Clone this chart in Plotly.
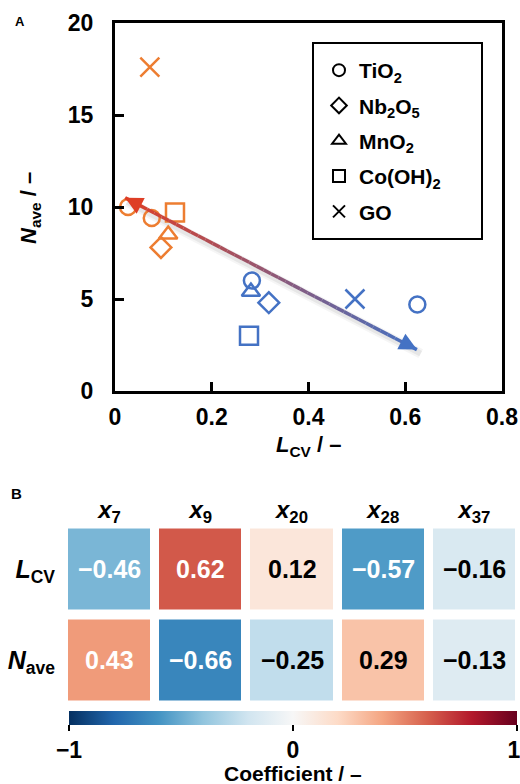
import plotly.graph_objects as go
import plotly.express as px

# ---------------- Panel A data ----------------
materials = ["TiO<sub>2</sub>", "Nb<sub>2</sub>O<sub>5</sub>", "MnO<sub>2</sub>", "Co(OH)<sub>2</sub>", "GO"]
symbols = ["circle-open", "diamond-open", "triangle-up-open", "square-open", "x-thin-open"]
marker_sizes = [16, 16, 16, 18, 19]

# L_CV and N_ave per material; group: "high" (orange) or "low" (blue)
tio2_lcv = [0.027, 0.076, 0.283, 0.625]
tio2_nave = [10.0, 9.4, 6.0, 4.7]
tio2_group = ["high", "high", "low", "low"]

nb2o5_lcv = [0.095, 0.318]
nb2o5_nave = [7.8, 4.8]
nb2o5_group = ["high", "low"]

mno2_lcv = [0.110, 0.281]
mno2_nave = [8.5, 5.4]
mno2_group = ["high", "low"]

coh2_lcv = [0.124, 0.277]
coh2_nave = [9.7, 3.0]
coh2_group = ["high", "low"]

go_lcv = [0.072, 0.496]
go_nave = [17.6, 5.0]
go_group = ["high", "low"]

# trend arrow (start = red head, end = blue head)
arrow_lcv = [0.021, 0.624]
arrow_nave = [10.5, 2.25]

group_colors = {"high": "#ED7D31", "low": "#4472C4"}

# ---------------- Panel B data ----------------
descriptors = ["<b><i>x</i><sub>7</sub></b>", "<b><i>x</i><sub>9</sub></b>", "<b><i>x</i><sub>20</sub></b>",
               "<b><i>x</i><sub>28</sub></b>", "<b><i>x</i><sub>37</sub></b>"]
targets = ["<b><i>L</i><sub>CV</sub></b>", "<b><i>N</i><sub>ave</sub></b>"]
coef_lcv = [-0.46, 0.62, 0.12, -0.57, -0.16]
coef_nave = [0.43, -0.66, -0.25, 0.29, -0.13]
cbar_ticks = [-1, 0, 1]
cbar_ticktext = ["\u22121", "0", "1\u00a0"]

FONT = "Arial, Liberation Sans, sans-serif"
W, H = 520, 784


def px_x(p):
    return p / W


def px_y(p):
    return 1 - p / H


fig = go.Figure()

series = [
    (tio2_lcv, tio2_nave, tio2_group),
    (nb2o5_lcv, nb2o5_nave, nb2o5_group),
    (mno2_lcv, mno2_nave, mno2_group),
    (coh2_lcv, coh2_nave, coh2_group),
    (go_lcv, go_nave, go_group),
]

# ---- trend arrow with colour gradient ----
x0, x1 = arrow_lcv
y0, y1 = arrow_nave
c_start = (222, 62, 38)
c_end = (68, 114, 196)
nseg = 40
shapes = []
# soft shadow
for w, a in [(10, 0.04), (6, 0.06)]:
    shapes.append(dict(type="line", xref="x", yref="y", x0=x0 + 0.004, y0=y0 - 0.22, x1=x1 + 0.008, y1=y1 - 0.22,
                       line=dict(color="rgba(0,0,0,%g)" % a, width=w), layer="below"))
for i in range(nseg):
    t0, t1 = i / nseg, (i + 1) / nseg
    tm = (t0 + t1) / 2
    col = tuple(int(round(c_start[k] + (c_end[k] - c_start[k]) * tm)) for k in range(3))
    shapes.append(dict(type="line", xref="x", yref="y",
                       x0=x0 + (x1 - x0) * t0, y0=y0 + (y1 - y0) * t0,
                       x1=x0 + (x1 - x0) * t1, y1=y0 + (y1 - y0) * t1,
                       line=dict(color="rgb(%d,%d,%d)" % col, width=3.5), layer="above"))

annotations = []
# arrow heads
for (tx, ty, bx, by, col) in [
    (x0, y0, x0 + (x1 - x0) * 0.05, y0 + (y1 - y0) * 0.05, c_start),
    (x1, y1, x1 - (x1 - x0) * 0.05, y1 - (y1 - y0) * 0.05, c_end),
]:
    annotations.append(dict(x=tx, y=ty, ax=bx, ay=by, xref="x", yref="y", axref="x", ayref="y",
                            showarrow=True, arrowhead=2, arrowsize=1.0, arrowwidth=3.5,
                            arrowcolor="rgb(%d,%d,%d)" % col, text="", standoff=0))

# ---- data markers ----
for (xs, ys, gs), name, sym, ms in zip(series, materials, symbols, marker_sizes):
    fig.add_trace(go.Scatter(
        x=xs, y=ys, mode="markers", showlegend=False, name=name,
        marker=dict(symbol=sym, size=ms, color=[group_colors[g] for g in gs], line=dict(width=2.5)),
        xaxis="x", yaxis="y"))

# ---- legend entries (black) ----
for i, (name, sym) in enumerate(zip(materials, symbols)):
    fig.add_trace(go.Scatter(
        x=[None], y=[None], mode="markers", name=name, legendgroup="g%d" % i,
        marker=dict(symbol=sym, size=15, color="black", line=dict(width=2)),
        xaxis="x", yaxis="y"))

# ---- heatmap ----
z = [coef_lcv, coef_nave]
fig.add_trace(go.Heatmap(
    z=z, x=list(range(len(descriptors))), y=list(range(len(targets))),
    zmin=-1, zmax=1, colorscale=px.colors.diverging.RdBu_r,
    xgap=9, ygap=10, showscale=True, hoverinfo="z",
    xaxis="x2", yaxis="y2",
    colorbar=dict(
        orientation="h", x=px_x(293), xanchor="center", len=448 / W, lenmode="fraction",
        y=px_y(711), yanchor="top", thickness=14, outlinewidth=0, xpad=0, ypad=0,
        tickvals=cbar_ticks, ticktext=cbar_ticktext,
        ticks="outside", ticklen=6, tickwidth=2, tickcolor="black",
        ticklabeloverflow="allow",
        tickfont=dict(family=FONT, size=23, color="black", weight="bold"),
    )))

for r, row in enumerate(z):
    for c, v in enumerate(row):
        txt = ("\u2212%.2f" % abs(v)) if v < 0 else "%.2f" % v
        annotations.append(dict(x=c, y=r, xref="x2", yref="y2", text="<b>%s</b>" % txt, showarrow=False,
                                xanchor="center", yanchor="middle",
                                font=dict(family=FONT, size=25, color="white" if abs(v) >= 0.4 else "black")))


def label(x, y, text, size, angle=0):
    return dict(x=px_x(x), y=px_y(y), xref="paper", yref="paper", showarrow=False, textangle=angle,
                xanchor="center", yanchor="middle", text=text,
                font=dict(family=FONT, size=size, color="black"))


# ---- axis titles and panel labels ----
annotations += [
    label(308, 446, "<b><i>L</i><sub>CV</sub> / \u2013</b>", 22),
    label(30, 208, "<b><i>N</i><sub>ave</sub> / \u2013</b>", 22, -90),
    label(20, 21, "<b>A</b>", 13),
    label(16, 493, "<b>B</b>", 15),
    label(293, 773, "<b>Coefficient / \u2013</b>", 21),
]

# legend frame
shapes.append(dict(type="rect", xref="paper", yref="paper", x0=px_x(313), x1=px_x(482),
                   y0=px_y(239), y1=px_y(43), line=dict(color="black", width=2), layer="below"))

tickfont = dict(family=FONT, size=23, color="black", weight="bold")
fig.update_layout(
    width=W, height=H, margin=dict(l=0, r=0, t=0, b=0, autoexpand=False),
    paper_bgcolor="white", plot_bgcolor="white",
    font=dict(family=FONT, color="black"),
    xaxis=dict(domain=[px_x(115), px_x(502)], range=[0, 0.8], dtick=0.2, tick0=0,
               showline=True, linewidth=3, linecolor="black", mirror=True,
               ticks="inside", ticklen=9, tickwidth=3, tickcolor="black",
               showgrid=False, zeroline=False, tickfont=tickfont, ticklabelstandoff=3, anchor="y"),
    yaxis=dict(domain=[px_y(391), px_y(23)], range=[0, 20], dtick=5, tick0=0,
               showline=True, linewidth=3, linecolor="black", mirror=True,
               ticks="inside", ticklen=9, tickwidth=3, tickcolor="black",
               showgrid=False, zeroline=False, tickfont=tickfont, ticklabelstandoff=14, anchor="x"),
    xaxis2=dict(domain=[px_x(64), 1.0], range=[-0.5, 4.5], side="top", anchor="y2",
                tickvals=list(range(5)), ticktext=descriptors, ticks="", showline=False,
                showgrid=False, zeroline=False, tickfont=dict(family=FONT, size=24, color="black"),
                ticklabelstandoff=0),
    yaxis2=dict(domain=[px_y(705.5), px_y(523.5)], range=[1.5, -0.5], anchor="x2",
                tickvals=[0, 1], ticktext=targets, ticks="", showline=False,
                showgrid=False, zeroline=False, tickfont=dict(family=FONT, size=25, color="black"),
                ticklabelstandoff=8),
    legend=dict(x=px_x(319), y=px_y(50), xanchor="left", yanchor="top", bgcolor="rgba(0,0,0,0)",
                borderwidth=0, font=dict(family=FONT, size=21, color="black", weight="bold"),
                tracegroupgap=5, itemsizing="constant"),
    shapes=shapes, annotations=annotations,
)

fig.write_html("out.html", config={"displayModeBar": False},
               post_script="document.body.style.margin='0px';")
